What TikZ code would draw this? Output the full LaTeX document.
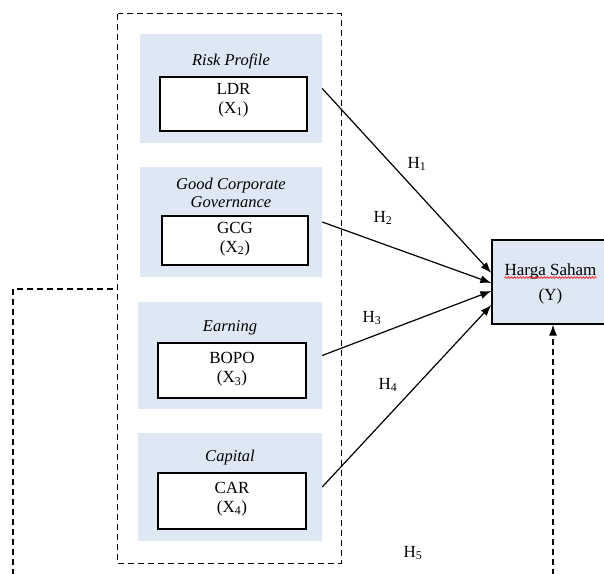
\documentclass[tikz,border=0pt]{standalone}
\usepackage{fontspec}
\setmainfont{Liberation Serif}
\usetikzlibrary{arrows.meta,decorations.pathmorphing}
\definecolor{panelblue}{HTML}{DDE8F4}
\tikzset{
  panel/.style={fill=panelblue,draw=none,minimum width=182pt,minimum height=109pt,inner sep=0pt},
  varbox/.style={draw=black,fill=white,line width=1.3pt,minimum width=147pt,minimum height=54pt,inner sep=0pt},
  ybox/.style={draw=black,fill=panelblue,line width=1.3pt,minimum width=120pt,minimum height=84pt,inner sep=0pt},
  ttl/.style={font=\fontsize{16.5}{18}\selectfont\itshape,align=center,inner sep=0pt},
  txt/.style={font=\fontsize{17}{19}\selectfont,align=center,inner sep=0pt},
  hlab/.style={font=\fontsize{17}{18}\selectfont,inner sep=0pt},
  dline/.style={dashed,dash pattern=on 6pt off 4pt,line width=1.2pt},
  conn/.style={line width=1.2pt,-{Latex[length=11pt,width=8pt]}}
}
\begin{document}
\begin{tikzpicture}[x=1pt,y=-1pt]
\useasboundingbox (0,0) rectangle (604,573);
\clip (0,0) rectangle (604,573);
% dashed group box
\node[draw=none,minimum width=223pt,minimum height=549pt,inner sep=0pt] (grp) at (229.5,288.5) {};
\draw[dline] (grp.north west) rectangle (grp.south east);
% panels
\node[panel] (p1) at (231,88.5) {};
\node[panel,minimum height=110pt] (p2) at (231,222) {};
\node[panel,minimum width=184pt,minimum height=107pt] (p3) at (230,355.5) {};
\node[panel,minimum width=184pt,minimum height=108pt] (p4) at (230,487) {};
% titles
\node[ttl] (t1) at (231,61) {Risk Profile};
\node[ttl] (t2) at (231,193) {Good Corporate\\Governance};
\node[ttl] (t3) at (230,328) {Earning};
\node[ttl] (t4) at (230,458) {Capital};
% variable boxes
\node[varbox] (b1) at (233.5,104) {};
\node[varbox,minimum width=146pt,minimum height=49pt] (b2) at (235,240.5) {};
\node[varbox,minimum width=148pt,minimum height=55pt] (b3) at (232,370.5) {};
\node[varbox,minimum width=148pt,minimum height=56pt] (b4) at (232,501) {};
\node[txt] (x1) at (233.5,100) {LDR\\(X\textsubscript{1})};
\node[txt] (x2) at (235,239) {GCG\\(X\textsubscript{2})};
\node[txt] (x3) at (232,369.5) {BOPO\\(X\textsubscript{3})};
\node[txt] (x4) at (232,499) {CAR\\(X\textsubscript{4})};
% Y box
\node[ybox] (y) at (552,282) {};
\node[txt] (yt) at (550.5,271) {Harga Saham};
\node[txt] (yy) at (550.5,296) {(Y)};
\draw[red,line width=0.6pt,decorate,decoration={snake,amplitude=0.9pt,segment length=3pt}]
  ([yshift=-2.5pt]yt.base west) -- ([yshift=-2.5pt]yt.base east);
% arrows
\draw[conn] (p1.east) -- ([yshift=9pt]y.west);
\draw[conn] (p2.east) -- ([yshift=-1pt]y.west);
\draw[conn] (p3.east) -- ([yshift=-9pt]y.west);
\draw[conn] (p4.east) -- ([yshift=-23pt]y.west);
% labels
\node[hlab] (h1) at (417,164) {H\textsubscript{1}};
\node[hlab] (h2) at (383,218) {H\textsubscript{2}};
\node[hlab] (h3) at (372,318) {H\textsubscript{3}};
\node[hlab] (h4) at (388,385) {H\textsubscript{4}};
\node[hlab] (h5) at (413,553) {H\textsubscript{5}};
% moderating dashed lines
\coordinate (lb) at (13,575);
\coordinate (rb) at (553,575);
\draw[dline] (lb) -- (lb |- 0,289) -- (grp.west |- 0,289);
\draw[dline,-{Latex[length=11pt,width=8pt]}] (rb) -- (rb |- y.south);
\end{tikzpicture}
\end{document}
